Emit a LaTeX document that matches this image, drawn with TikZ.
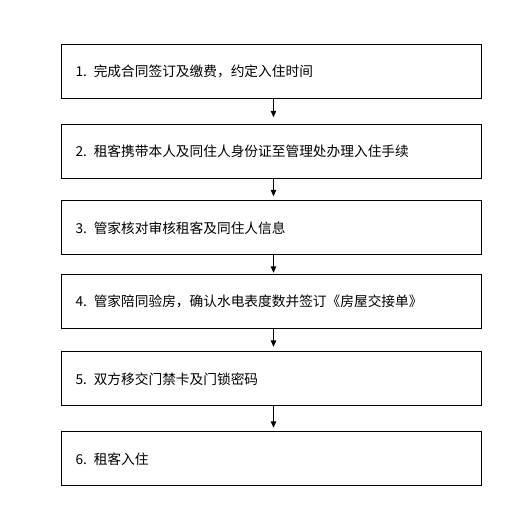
\documentclass[tikz,border=0pt]{standalone}
\usepackage{fontspec}
\setmainfont[WordSpace=0.3]{Noto Sans CJK SC}
\usetikzlibrary{arrows.meta, positioning}
\tikzset{
  stepnode/.style = {draw=black, line width=1pt, rectangle, anchor=north,
    text width=392pt, inner xsep=14pt, inner ysep=0pt, outer sep=0pt,
    minimum height=54pt, align=left, font=\fontsize{13.7}{16}\selectfont},
  flow/.style = {line width=1pt, -{Triangle[length=6.5pt,width=5.5pt]}}
}
\begin{document}
\begin{tikzpicture}[x=1pt, y=-1pt]
\useasboundingbox (0,0) rectangle (532,527);
\node [stepnode] (s1) at (271.5,44.3) {1. 完成合同签订及缴费，约定入住时间};
\node [stepnode, below=26pt of s1] (s2) {2. 租客携带本人及同住人身份证至管理处办理入住手续};
\node [stepnode, below=22.5pt of s2] (s3) {3. 管家核对审核租客及同住人信息};
\node [stepnode, below=19.5pt of s3] (s4) {4. 管家陪同验房，确认水电表度数并签订《房屋交接单》};
\node [stepnode, below=23.5pt of s4] (s5) {5. 双方移交门禁卡及门锁密码};
\node [stepnode, below=26pt of s5] (s6) {6. 租客入住};
% arrows between steps
\foreach \a/\b/\gap in {s1/s2/7, s2/s3/4.5, s3/s4/1.5, s4/s5/5, s5/s6/4}
  \draw [flow, shorten >=\gap pt] ([xshift=2pt]\a.south) -- ([xshift=2pt]\b.north);
\end{tikzpicture}
\end{document}
